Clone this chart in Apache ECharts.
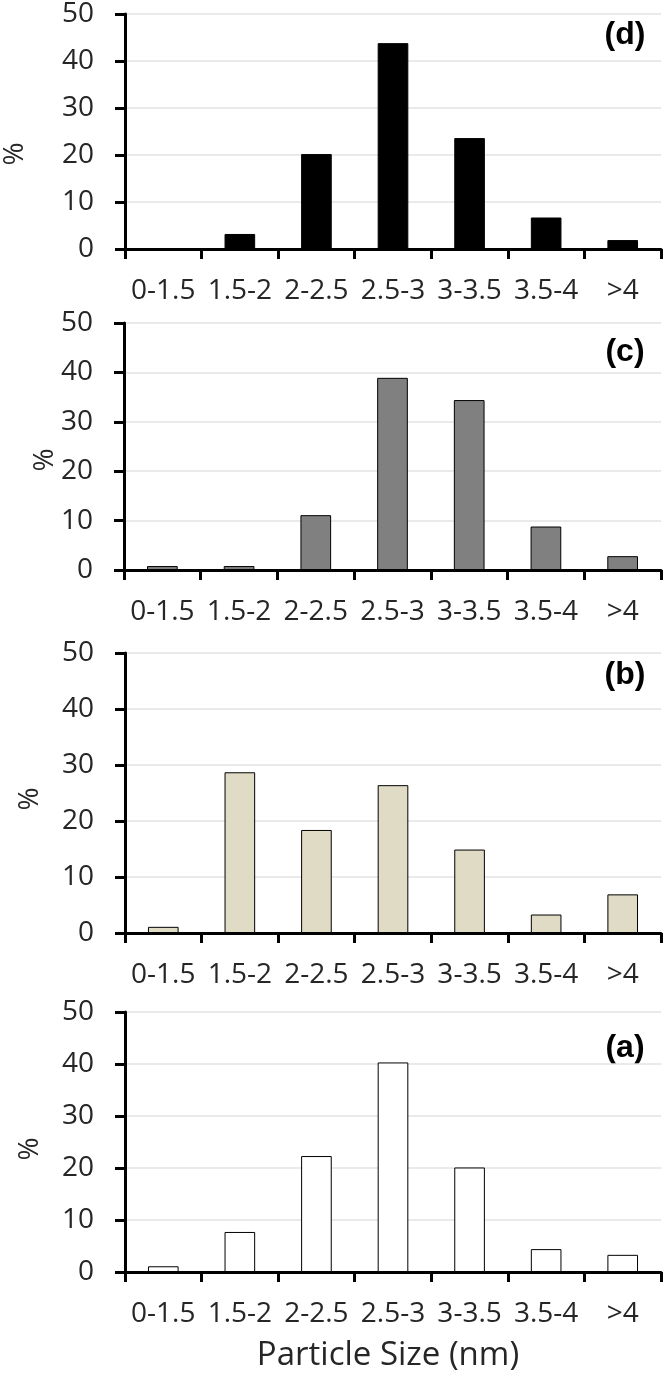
<!DOCTYPE html>
<html>
<head>
<meta charset="utf-8">
<script src="https://cdn.jsdelivr.net/npm/echarts@6/dist/echarts.min.js"></script>
<style>
html,body{margin:0;padding:0;background:#fff;}
#chart{width:666px;height:1382px;}
</style>
</head>
<body>
<div id="chart"></div>
<script>
const categories = ['0-1.5','1.5-2','2-2.5','2.5-3','3-3.5','3.5-4','>4'];
const valuesD = [0, 3.2, 20.2, 43.8, 23.6, 6.7, 1.9];
const valuesC = [0.8, 0.8, 11.1, 38.9, 34.4, 8.8, 2.8];
const valuesB = [1.1, 28.7, 18.4, 26.4, 14.9, 3.3, 6.9];
const valuesA = [1.1, 7.7, 22.3, 40.3, 20.1, 4.4, 3.3];
const yTicks = [0, 10, 20, 30, 40, 50];
const panelLabels = ['(d)', '(c)', '(b)', '(a)'];
const yName = '%';
const xName = 'Particle Size (nm)';

const panels = [
  {values: valuesD, color: '#000000', top: 14, height: 235, left: 125, label: panelLabels[0], labelY: 35, pctX: 15, pctY: 154},
  {values: valuesC, color: '#808080', top: 323, height: 247, left: 124, label: panelLabels[1], labelY: 352, pctX: 45, pctY: 460},
  {values: valuesB, color: '#e0dbc5', top: 653, height: 280, left: 125, label: panelLabels[2], labelY: 675, pctX: 30, pctY: 799},
  {values: valuesA, color: '#ffffff', top: 1012, height: 260, left: 125, label: panelLabels[3], labelY: 1048, pctX: 30, pctY: 1149}
];

const FONT = '"Open Sans", "Noto Sans", sans-serif';
const TXT = '#262626';

const grids = [], xAxes = [], yAxes = [], series = [], graphics = [];
panels.forEach((p, i) => {
  grids.push({left: p.left, right: 5, top: p.top, height: p.height, containLabel: false});
  xAxes.push({
    type: 'category', gridIndex: i, data: categories,
    axisLine: {show: true, lineStyle: {color: '#000', width: 3}},
    axisTick: {show: true, length: 10, alignWithLabel: false, lineStyle: {color: '#000', width: 3}},
    axisLabel: {color: TXT, fontFamily: FONT, fontSize: 28, margin: 28, interval: 0},
    splitLine: {show: false}
  });
  yAxes.push({
    type: 'value', gridIndex: i, min: yTicks[0], max: yTicks[yTicks.length - 1], interval: yTicks[1] - yTicks[0],
    axisLine: {show: true, lineStyle: {color: '#000', width: 3}},
    axisTick: {show: true, length: 10, lineStyle: {color: '#000', width: 3}},
    axisLabel: {color: TXT, fontFamily: FONT, fontSize: 28, margin: 31},
    splitLine: {show: true, lineStyle: {color: '#e3e3e3', width: 1.5}}
  });
  series.push({
    type: 'bar', xAxisIndex: i, yAxisIndex: i, data: p.values, barWidth: '40%',
    itemStyle: {color: p.color, borderColor: '#000', borderWidth: 1},
    silent: true
  });
  graphics.push({
    type: 'text', x: 625, y: p.labelY,
    style: {text: p.label, font: 'bold 32px "Liberation Sans", Arial, sans-serif', fill: '#000',
            align: 'center', verticalAlign: 'middle', textAlign: 'center', textVerticalAlign: 'middle'}
  });
  graphics.push({
    type: 'text', x: p.pctX, y: p.pctY, rotation: Math.PI / 2,
    style: {text: yName, font: '28px ' + FONT, fill: TXT,
            align: 'center', verticalAlign: 'middle', textAlign: 'center', textVerticalAlign: 'middle'}
  });
});
graphics.push({
  type: 'text', x: 388, y: 1356,
  style: {text: xName, font: '33px ' + FONT, fill: TXT,
          align: 'center', verticalAlign: 'middle', textAlign: 'center', textVerticalAlign: 'middle'}
});

const chart = echarts.init(document.getElementById('chart'), null, {renderer: 'canvas'});
chart.setOption({
  animation: false,
  backgroundColor: '#ffffff',
  grid: grids, xAxis: xAxes, yAxis: yAxes, series: series, graphic: graphics
});
</script>
</body>
</html>
